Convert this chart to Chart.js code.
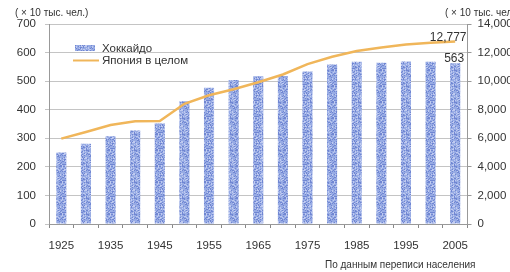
<!DOCTYPE html>
<html>
<head>
<meta charset="utf-8">
<script src="https://cdn.jsdelivr.net/npm/chart.js@4/dist/chart.umd.min.js"></script>
<style>
  html, body { margin: 0; padding: 0; background: #fff; }
  #wrap { width: 510px; height: 272px; position: relative; }
</style>
</head>
<body>
<div id="wrap"><canvas id="c"></canvas></div>
<script>
// ---- data ----
const years = ['1925','1930','1935','1940','1945','1950','1955','1960','1965','1970','1975','1980','1985','1990','1995','2000','2005'];
const hokkaido = [250, 281, 307, 327, 352, 430, 477, 504, 517, 518, 534, 558, 568, 564, 569, 568, 563];
const japan = [5974, 6445, 6925, 7193, 7215, 8412, 9008, 9430, 9921, 10467, 11194, 11706, 12105, 12361, 12557, 12693, 12777];
const leftTicks = [0, 100, 200, 300, 400, 500, 600, 700];
const rightTicks = [0, 2000, 4000, 6000, 8000, 10000, 12000, 14000];
const seriesNames = ['Хоккайдо', 'Япония в целом'];
const unitLabel = '( × 10 тыс. чел.)';
const unitLabelRight = '( × 10 тыс. чел.)';
const sourceNote = 'По данным переписи населения';

// ---- styles ----
const FONT = '"Liberation Sans", Arial, sans-serif';
const TEXT = '#333333';
const LINE_COLOR = '#f0b65a';

function makePattern() {
  const s = 16;
  const pc = document.createElement('canvas');
  pc.width = s; pc.height = s;
  const g = pc.getContext('2d');
  g.fillStyle = '#97abe4';
  g.fillRect(0, 0, s, s);
  let h = 12345;
  for (let y = 0; y < s; y++) {
    for (let x = 0; x < s; x++) {
      h = (h * 69069 + 1) % 4294967296;
      const r = Math.floor(h / 65536) % 10;
      if (r < 3) { g.fillStyle = '#7086d2'; g.fillRect(x, y, 1, 1); }
      else if (r < 5) { g.fillStyle = '#bfcaf0'; g.fillRect(x, y, 1, 1); }
    }
  }
  return g.createPattern(pc, 'repeat');
}
const barFill = makePattern();

const overlay = {
  id: 'overlay',
  afterDraw(chart) {
    const ctx = chart.ctx;
    ctx.save();
    // unit labels
    ctx.fillStyle = TEXT;
    ctx.font = '10px ' + FONT;
    ctx.textBaseline = 'middle';
    ctx.textAlign = 'left';
    ctx.fillText(unitLabel, 15, 13);
    ctx.fillText(unitLabelRight, 445, 13);
    // source note
    ctx.font = '10px ' + FONT;
    ctx.fillText(sourceNote, 325, 265);
    // legend
    ctx.font = '11.5px ' + FONT;
    ctx.fillStyle = barFill;
    ctx.fillRect(75, 45, 20, 6);
    ctx.strokeStyle = LINE_COLOR;
    ctx.lineWidth = 2;
    ctx.beginPath(); ctx.moveTo(73, 60.5); ctx.lineTo(99, 60.5); ctx.stroke();
    ctx.fillStyle = TEXT;
    ctx.fillText(seriesNames[0], 102, 48.5);
    ctx.fillText(seriesNames[1], 102, 61);
    // data labels for last points
    const n = years.length - 1;
    const lineMeta = chart.getDatasetMeta(1).data[n];
    const barMeta = chart.getDatasetMeta(0).data[n];
    ctx.font = '12px ' + FONT;
    ctx.textAlign = 'center';
    ctx.textBaseline = 'alphabetic';
    ctx.fillText(japan[n].toLocaleString('en-US'), lineMeta.x - 7, lineMeta.y - 0.5);
    ctx.fillText(String(hokkaido[n]), barMeta.x - 1, barMeta.y - 1);
    ctx.restore();
  }
};

new Chart(document.getElementById('c'), {
  data: {
    labels: years,
    datasets: [
      {
        type: 'bar',
        label: seriesNames[0],
        data: hokkaido,
        backgroundColor: barFill,
        borderWidth: 0,
        barPercentage: 0.41,
        categoryPercentage: 1,
        yAxisID: 'y',
        order: 2
      },
      {
        type: 'line',
        label: seriesNames[1],
        data: japan,
        borderColor: LINE_COLOR,
        borderWidth: 2.5,
        pointRadius: 0,
        tension: 0,
        fill: false,
        yAxisID: 'y2',
        order: 1
      }
    ]
  },
  options: {
    responsive: true,
    maintainAspectRatio: false,
    animation: false,
    layout: { padding: { top: 24, left: 0, right: 0, bottom: 0 } },
    plugins: {
      legend: { display: false },
      tooltip: { enabled: false }
    },
    scales: {
      x: {
        offset: true,
        afterFit(s) { s.height = 48; },
        grid: { offset: true, drawOnChartArea: false, drawTicks: true, tickLength: 4, color: '#888' },
        border: { color: '#999' },
        ticks: {
          autoSkip: false, maxRotation: 0, padding: 11,
          color: TEXT, font: { family: FONT, size: 11.5 },
          callback(v, i) { return i % 2 === 0 ? years[i] : ''; }
        }
      },
      y: {
        position: 'left',
        min: leftTicks[0], max: leftTicks[leftTicks.length - 1],
        afterFit(s) { s.width = 49; },
        afterBuildTicks(s) { s.ticks = leftTicks.map(v => ({ value: v })); },
        grid: { color: '#c4c4c4', tickLength: 4 },
        border: { color: '#999' },
        ticks: { padding: 9, color: TEXT, font: { family: FONT, size: 11.5 } }
      },
      y2: {
        position: 'right',
        min: rightTicks[0], max: rightTicks[rightTicks.length - 1],
        afterFit(s) { s.width = 42.5; },
        afterBuildTicks(s) { s.ticks = rightTicks.map(v => ({ value: v })); },
        grid: { drawOnChartArea: false, tickLength: 4, color: '#999' },
        border: { color: '#999' },
        ticks: {
          padding: 6, color: TEXT, font: { family: FONT, size: 11.5 },
          callback(v) { return v.toLocaleString('en-US'); }
        }
      }
    }
  },
  plugins: [overlay]
});
</script>
</body>
</html>
